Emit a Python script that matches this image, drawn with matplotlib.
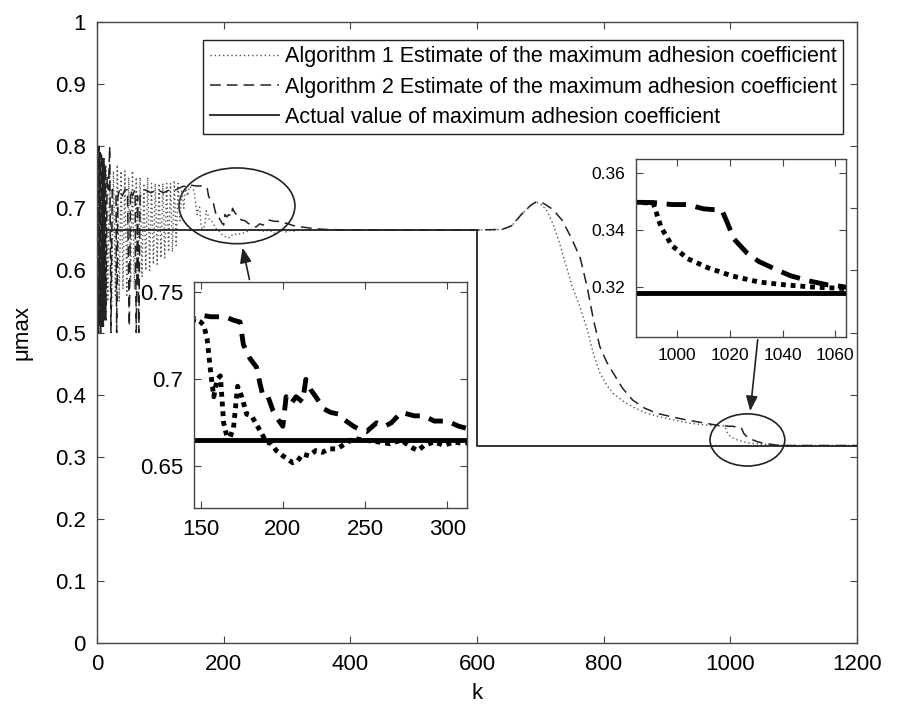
import matplotlib.pyplot as plt
from matplotlib.patches import Ellipse

plt.rcParams['font.family'] = ['Liberation Sans', 'DejaVu Sans']

# sample index k and estimates
k_alg1 = [0, 1, 2, 3, 4, 5, 6, 7, 8, 9, 10, 11, 12, 13, 14,
          17, 20, 23, 26, 29, 32, 35, 38, 41, 44, 47, 50, 53, 56, 59, 62,
          65, 68, 71, 74, 77, 80, 83, 86, 89, 92, 95, 98, 101, 104, 107,
          110, 113, 116, 119, 122, 125, 128, 131, 134, 137, 140, 143, 146,
          150, 152, 154, 156, 158, 160, 162, 164, 166, 168, 170, 172.5, 175,
          178, 181, 184, 187, 190, 193, 196, 200, 203, 206, 209, 212, 216,
          220, 224, 228, 233, 238, 243, 250, 258, 265, 272, 278, 282, 286,
          292, 298, 304, 310, 320, 400, 500, 600, 640, 655, 670, 685, 693,
          700, 710, 720, 730, 740, 750, 763, 774, 784, 794, 805, 815, 830,
          846, 868, 889, 912, 936, 960, 973, 984, 991, 994, 998, 1004, 1012,
          1021, 1031, 1042, 1052, 1062, 1075, 1100, 1200]
mu_alg1 = [0.80, 0.50, 0.80, 0.50, 0.79, 0.50, 0.79, 0.51, 0.78, 0.51, 0.78, 0.52, 0.77, 0.52, 0.77,
           0.55, 0.77, 0.54, 0.76, 0.56, 0.77, 0.55, 0.76, 0.57, 0.76, 0.56, 0.75, 0.58, 0.76, 0.57, 0.75,
           0.59, 0.75, 0.59, 0.74, 0.60, 0.75, 0.60, 0.74, 0.61, 0.74, 0.61, 0.74, 0.62, 0.74, 0.62,
           0.74, 0.63, 0.74, 0.63, 0.745, 0.64, 0.74, 0.68, 0.73, 0.70, 0.735, 0.72, 0.735,
           0.733, 0.731, 0.723, 0.705, 0.69, 0.70, 0.702, 0.675, 0.667, 0.667, 0.672, 0.696, 0.69,
           0.68, 0.679, 0.674, 0.669, 0.664, 0.663, 0.659, 0.656, 0.654, 0.652, 0.653, 0.657, 0.656,
           0.659, 0.658, 0.66, 0.66, 0.663, 0.666, 0.665, 0.664, 0.663, 0.665, 0.661, 0.659, 0.662,
           0.664, 0.662, 0.664, 0.663, 0.665, 0.665, 0.665, 0.665, 0.666, 0.672, 0.69, 0.705, 0.710,
           0.707, 0.697, 0.675, 0.645, 0.61, 0.575, 0.54, 0.505, 0.465, 0.435, 0.415, 0.402, 0.39,
           0.380, 0.37, 0.364, 0.359, 0.354, 0.351, 0.350, 0.3498, 0.3495, 0.341, 0.3347, 0.330, 0.3267,
           0.3239, 0.3218, 0.3207, 0.320, 0.3196, 0.3185, 0.318, 0.318]

k_alg2 = [0, 1, 2, 3, 4, 5, 6, 7, 8, 9, 10, 11, 12, 13, 14,
          16, 18, 20, 22, 24, 27, 30, 31, 33, 36, 40, 44, 48, 51, 53, 56,
          60, 62, 64, 66, 68, 75, 85, 95, 105, 115, 125, 135, 146,
          150, 156, 160, 165, 170, 174, 176, 180, 184, 186, 188, 191, 194,
          197, 200, 202, 205, 208, 212, 214, 217, 220, 225, 229, 234, 237,
          243, 247, 251, 257, 262, 266, 272, 280, 286, 292, 300, 307, 315,
          330, 345, 360, 400, 600, 640, 655, 670, 685, 693, 705, 720, 735,
          750, 763, 774, 784, 794, 805, 815, 830, 846, 865, 884, 908, 932,
          955, 979, 984, 991, 998, 1004, 1010, 1017, 1019, 1021.5, 1026.5,
          1031, 1038, 1043, 1050, 1057, 1062, 1070, 1080, 1200]
mu_alg2 = [0.50, 0.80, 0.50, 0.80, 0.51, 0.79, 0.50, 0.79, 0.51, 0.78, 0.51, 0.78, 0.52, 0.77, 0.52,
           0.75, 0.73, 0.80, 0.50, 0.73, 0.72, 0.72, 0.50, 0.72, 0.73, 0.72, 0.73, 0.73, 0.51, 0.73, 0.72,
           0.73, 0.50, 0.72, 0.50, 0.72, 0.73, 0.725, 0.73, 0.725, 0.73, 0.73, 0.735, 0.737,
           0.737, 0.736, 0.736, 0.736, 0.734, 0.733, 0.72, 0.712, 0.707, 0.698, 0.69, 0.69, 0.682,
           0.677, 0.673, 0.69, 0.686, 0.69, 0.687, 0.70, 0.694, 0.69, 0.683, 0.681, 0.68, 0.677,
           0.673, 0.671, 0.670, 0.675, 0.673, 0.675, 0.681, 0.679, 0.679, 0.676, 0.676, 0.673, 0.671,
           0.669, 0.667, 0.666, 0.665, 0.665, 0.666, 0.672, 0.69, 0.705, 0.710, 0.708, 0.698, 0.68,
           0.65, 0.62, 0.573, 0.52, 0.477, 0.452, 0.435, 0.41, 0.391, 0.378, 0.370, 0.364, 0.359,
           0.355, 0.351, 0.3498, 0.3497, 0.349, 0.349, 0.3475, 0.347, 0.3428, 0.337, 0.332,
           0.329, 0.326, 0.324, 0.3222, 0.3208, 0.3203, 0.319, 0.318, 0.318]

k_actual = [0, 600, 600, 1200]
mu_actual = [0.665, 0.665, 0.318, 0.318]

labels = ["Algorithm 1 Estimate of the maximum adhesion coefficient",
          "Algorithm 2 Estimate of the maximum adhesion coefficient",
          "Actual value of maximum adhesion coefficient"]


def style_ax(ax, size):
    for s in ax.spines.values():
        s.set_color("#444444")
        s.set_linewidth(1.0)
    ax.tick_params(direction="in", top=True, right=True, labelsize=size,
                   length=5, color="#444444", pad=8)


fig = plt.figure(figsize=(9, 7.19), dpi=100)
ax = fig.add_axes([0.1078, 0.1057, 0.8444, 0.8637])

ax.plot(k_alg1, mu_alg1, linestyle=(0, (1, 2)), color="#555555", lw=1.0, label=labels[0])
ax.plot(k_alg2, mu_alg2, linestyle=(0, (7, 4)), color="#222222", lw=1.1, label=labels[1])
ax.plot(k_actual, mu_actual, color="#222222", lw=1.3, label=labels[2])

ax.set_xlim(0, 1200)
ax.set_ylim(0, 1)
ax.set_xticks(range(0, 1201, 200))
ax.set_yticks([i / 10 for i in range(11)])
ax.set_yticklabels(["0", "0.1", "0.2", "0.3", "0.4", "0.5", "0.6", "0.7", "0.8", "0.9", "1"])
style_ax(ax, 16)
ax.set_xlabel("k", fontsize=16, labelpad=6)
ax.set_ylabel("μmax", fontsize=16, labelpad=16)

leg = ax.legend(loc="upper right", bbox_to_anchor=(0.982, 0.971), borderaxespad=0,
                fontsize=15.5, handlelength=3.2, handletextpad=0.3, fancybox=False,
                edgecolor="#222222", framealpha=1, borderpad=0.3, labelspacing=0.42)
leg.get_frame().set_linewidth(1.0)

# highlight ellipses and arrows
ax.add_patch(Ellipse((221, 0.704), 183, 0.122, fill=False, color="#222222", lw=1.2))
ax.add_patch(Ellipse((1027, 0.327), 118, 0.084, fill=False, color="#222222", lw=1.2))
ax.annotate("", xy=(228.9, 0.641), xytext=(241.6, 0.581),
            arrowprops=dict(arrowstyle="-|>,head_length=0.9,head_width=0.35",
                            color="#222222", lw=1.2))
ax.annotate("", xy=(1031, 0.369), xytext=(1043.7, 0.4928),
            arrowprops=dict(arrowstyle="-|>,head_length=0.9,head_width=0.35",
                            color="#222222", lw=1.2))

# left inset
ax1 = fig.add_axes([0.2156, 0.2935, 0.3033, 0.3143])
ax1.plot(k_alg1, mu_alg1, linestyle=(0, (1, 1)), color="black", lw=3.5)
ax1.plot(k_alg2, mu_alg2, linestyle=(0, (3, 2)), color="black", lw=3.5)
ax1.plot(k_actual, mu_actual, color="black", lw=3.5)
ax1.set_xlim(146, 312)
ax1.set_ylim(0.626, 0.756)
ax1.set_xticks([150, 200, 250, 300])
ax1.set_yticks([0.65, 0.7, 0.75])
ax1.set_yticklabels(["0.65", "0.7", "0.75"])
style_ax(ax1, 16)

# right inset
ax2 = fig.add_axes([0.7067, 0.5313, 0.2333, 0.2476])
ax2.plot(k_alg1, mu_alg1, linestyle=(0, (1, 1)), color="black", lw=3.5)
ax2.plot(k_alg2, mu_alg2, linestyle=(0, (4, 2)), color="black", lw=3.5)
ax2.plot(k_actual, mu_actual, color="black", lw=3.5)
ax2.set_xlim(984.5, 1064)
ax2.set_ylim(0.3025, 0.365)
ax2.set_xticks([1000, 1020, 1040, 1060])
ax2.set_yticks([0.32, 0.34, 0.36])
style_ax(ax2, 12.5)

fig.savefig("out.png", dpi=100)
